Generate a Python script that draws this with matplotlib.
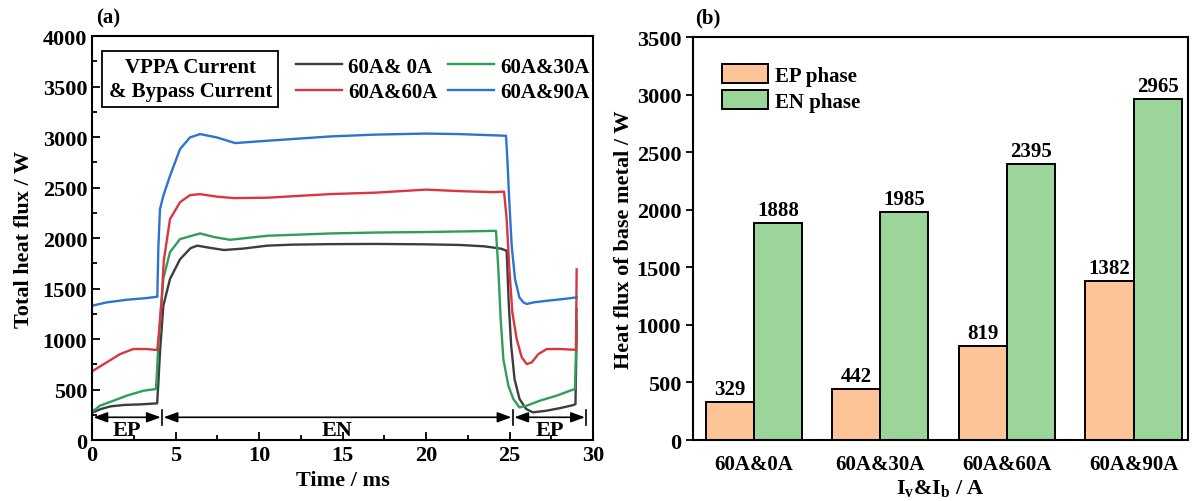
import matplotlib
matplotlib.use("Agg")
import matplotlib.pyplot as plt
import numpy as np
from matplotlib.ticker import MultipleLocator

plt.rcParams['font.family'] = ['Liberation Serif', 'DejaVu Serif']
plt.rcParams['font.weight'] = 'bold'
plt.rcParams['axes.labelweight'] = 'bold'
plt.rcParams['mathtext.fontset'] = 'custom'
plt.rcParams['mathtext.rm'] = 'Liberation Serif:bold'
plt.rcParams['mathtext.it'] = 'Liberation Serif:bold'
plt.rcParams['mathtext.bf'] = 'Liberation Serif:bold'

# ---- panel (a): total heat flux vs time ----
t_0A = [0, 0.5, 1.1, 1.9, 2.9, 3.9, 3.97, 4.07, 4.27, 4.67, 5.27, 5.9, 6.3, 7.0, 7.9,
        9.0, 10.5, 12.0, 14.3, 17.0, 20.0, 22.0, 23.5, 24.5, 24.83, 24.95, 25.1, 25.3,
        25.6, 26.0, 26.4, 27.2, 28.0, 28.8, 28.95, 29.0, 29.03]
q_0A = [270, 305, 333, 347, 353, 363, 560, 870, 1330, 1595, 1790, 1900, 1925, 1905, 1882,
        1895, 1925, 1935, 1940, 1942, 1938, 1932, 1918, 1895, 1874, 1363, 934, 604,
        406, 307, 274, 290, 315, 345, 356, 871, 1170]

t_30A = [0, 0.48, 1.28, 2.08, 3.07, 3.83, 3.9, 3.97, 4.1, 4.27, 4.67, 5.27, 6.47, 7.3, 8.27,
         10.5, 14.3, 17.0, 20.0, 23.0, 24.19, 24.33, 24.47, 24.63, 24.93, 25.23, 25.59,
         26.03, 26.83, 27.82, 28.62, 28.92, 28.98, 29.02]
q_30A = [280, 340, 389, 439, 488, 505, 700, 950, 1230, 1600, 1861, 1990, 2046, 2010, 1983,
         2023, 2046, 2055, 2060, 2068, 2072, 1693, 1198, 802, 538, 406, 323,
         340, 390, 439, 488, 505, 868, 1297]

t_60A = [0, 0.88, 1.68, 2.47, 3.27, 3.91, 4.01, 4.17, 4.3, 4.67, 5.27, 5.87, 6.47, 7.5, 8.5,
         10.5, 14.3, 17.0, 20.0, 22.0, 24.0, 24.67, 24.83, 24.99, 25.17, 25.43, 25.73,
         26.03, 26.33, 26.73, 27.23, 28.02, 28.86, 28.98, 29.02]
q_60A = [680, 769, 851, 901, 901, 891, 1066, 1396, 1780, 2188, 2355, 2426, 2435, 2410, 2396,
         2400, 2436, 2450, 2480, 2465, 2455, 2460, 2188, 1693, 1264, 1000, 819,
         752, 769, 851, 901, 901, 894, 894, 1690]

t_90A = [0, 0.88, 2.08, 3.27, 3.91, 3.97, 4.07, 4.27, 4.67, 5.27, 5.87, 6.47, 7.47, 8.57,
         10.5, 14.3, 17.0, 20.0, 22.0, 24.5, 24.79, 24.87, 24.99, 25.13, 25.33, 25.59,
         25.83, 26.03, 26.43, 27.23, 28.2, 29.02]
q_90A = [1330, 1363, 1389, 1406, 1419, 1900, 2287, 2419, 2617, 2881, 2997, 3030, 2997, 2941,
         2964, 3007, 3025, 3035, 3030, 3015, 3013, 2782, 2353, 1924, 1594, 1413,
         1363, 1347, 1363, 1379, 1396, 1413]

series_labels = ['60A& 0A', '60A&30A', '60A&60A', '60A&90A']
series_colors = ['#3d3d3d', '#2e9e5b', '#d9363e', '#2c73d2']

# phase boundaries (ms)
phase_edges = [0, 4.2, 25.2, 29.6]
phase_names = ['EP', 'EN', 'EP']

# ---- panel (b): heat flux of base metal ----
groups = ['60A&0A', '60A&30A', '60A&60A', '60A&90A']
ep_flux = [329, 442, 819, 1382]
en_flux = [1888, 1985, 2395, 2965]

fig = plt.figure(figsize=(11.92, 5.02), dpi=100)
ax1 = fig.add_axes([0.0772, 0.1215, 0.4203, 0.8045])
ax2 = fig.add_axes([0.5814, 0.1215, 0.4152, 0.8025])

fs = 16
lines = []
for t, q, lab, c in zip([t_0A, t_30A, t_60A, t_90A], [q_0A, q_30A, q_60A, q_90A],
                        series_labels, series_colors):
    ln, = ax1.plot(t, q, color=c, lw=1.7, label=lab)
    lines.append(ln)

ax1.set_xlim(0, 30)
ax1.set_ylim(0, 4000)
ax1.xaxis.set_major_locator(MultipleLocator(5))
ax1.xaxis.set_minor_locator(MultipleLocator(2.5))
ax1.yaxis.set_major_locator(MultipleLocator(500))
ax1.yaxis.set_minor_locator(MultipleLocator(250))
ax1.tick_params(which='both', direction='in', top=False, right=False, labelsize=fs, width=1.3)
ax1.tick_params(which='major', length=6)
ax1.tick_params(which='minor', length=3.5)
ax1.set_xlabel('Time / ms', fontsize=fs, labelpad=4)
ax1.set_ylabel('Total heat flux / W', fontsize=fs, labelpad=6)
for s in ax1.spines.values():
    s.set_linewidth(1.5)

# legend order: columns are (0A, 60A) and (30A, 90A)
leg = ax1.legend([lines[0], lines[2], lines[1], lines[3]],
                 [series_labels[0], series_labels[2], series_labels[1], series_labels[3]],
                 ncol=2, frameon=False, fontsize=15, loc='upper left',
                 bbox_to_anchor=(0.378, 0.985), handlelength=2.2, handletextpad=0.3,
                 columnspacing=0.5, labelspacing=0.25, borderpad=0.2)

ax1.text(0.196, 0.893, 'VPPA Current\n& Bypass Current', transform=ax1.transAxes,
         ha='center', va='center', fontsize=15, linespacing=1.25,
         bbox=dict(boxstyle='square,pad=0.3', fc='white', ec='black', lw=1.3))

# phase arrows
arrow_y = 225
for x0, x1, name in zip(phase_edges[:-1], phase_edges[1:], phase_names):
    ax1.annotate('', xy=(x1, arrow_y), xytext=(x0, arrow_y),
                 arrowprops=dict(arrowstyle='<|-|>,head_length=0.6,head_width=0.22',
                                 color='black', lw=1.2, shrinkA=1, shrinkB=1,
                                 mutation_scale=14))
    ax1.text((x0 + x1) / 2, 100, name, ha='center', va='center', fontsize=fs)
for xe in phase_edges[1:]:
    ax1.plot([xe, xe], [150, 300], color='black', lw=1.2)

fig.text(0.081, 0.963, '(a)', fontsize=15, ha='left', va='center')
fig.text(0.583, 0.963, '(b)', fontsize=15, ha='left', va='center')

# ---- panel (b) ----
x = np.arange(len(groups))
w = 0.38
b1 = ax2.bar(x - w / 2, ep_flux, w, color='#fdc597', edgecolor='black', lw=1.4, label='EP phase')
b2 = ax2.bar(x + w / 2, en_flux, w, color='#9cd59a', edgecolor='black', lw=1.4, label='EN phase')
for bars, vals in [(b1, ep_flux), (b2, en_flux)]:
    for r, v in zip(bars, vals):
        ax2.text(r.get_x() + r.get_width() / 2, v + 25, str(v), ha='center', va='bottom',
                 fontsize=15)

ax2.set_xlim(-0.48, 3.43)
ax2.set_ylim(0, 3500)
ax2.set_xticks(x)
ax2.set_xticklabels(groups)
ax2.yaxis.set_major_locator(MultipleLocator(500))
ax2.tick_params(axis='y', direction='out', length=5, width=1.3, labelsize=fs)
ax2.tick_params(axis='x', length=0, labelsize=15, pad=10)
ax2.set_xlabel(r'I$_{v}$&I$_{b}$ / A', fontsize=fs, labelpad=2)
ax2.set_ylabel('Heat flux of base metal / W', fontsize=fs, labelpad=2)
for s in ax2.spines.values():
    s.set_linewidth(1.5)
ax2.legend(loc='upper left', bbox_to_anchor=(0.02, 0.98), frameon=False, fontsize=15,
           handlelength=2.2, handleheight=1.05, handletextpad=0.35, labelspacing=0.2)

fig.savefig('out.png', dpi=100)
